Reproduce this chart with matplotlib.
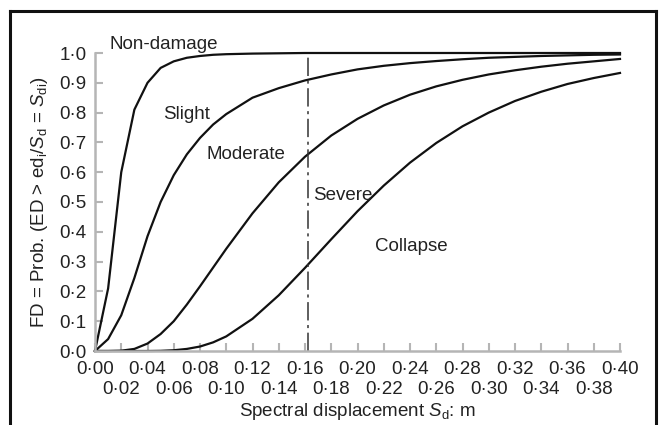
import numpy as np
import matplotlib
matplotlib.use("Agg")
import matplotlib.pyplot as plt
from matplotlib.lines import Line2D

plt.rcParams["font.family"] = "Liberation Sans"
plt.rcParams["mathtext.fontset"] = "custom"
plt.rcParams["mathtext.rm"] = "Liberation Sans"
plt.rcParams["mathtext.it"] = "Liberation Sans:italic"

# spectral displacement grid, m
sd = [0.00, 0.01, 0.02, 0.03, 0.04, 0.05, 0.06, 0.07, 0.08, 0.09, 0.10,
      0.12, 0.14, 0.16, 0.18, 0.20, 0.22, 0.24, 0.26, 0.28, 0.30,
      0.32, 0.34, 0.36, 0.38, 0.40]

# fragility curves (boundaries between damage states)
fd_slight = [0.0, 0.21, 0.60, 0.81, 0.90, 0.95, 0.972, 0.984, 0.990, 0.994, 0.996,
             0.998, 0.999, 1.0, 1.0, 1.0, 1.0, 1.0, 1.0, 1.0, 1.0,
             1.0, 1.0, 1.0, 1.0, 1.0]
fd_moderate = [0.0, 0.04, 0.12, 0.245, 0.385, 0.50, 0.59, 0.66, 0.715, 0.76, 0.795,
               0.85, 0.882, 0.908, 0.928, 0.945, 0.957, 0.966, 0.973, 0.979, 0.984,
               0.987, 0.990, 0.992, 0.994, 0.995]
fd_severe = [0.0, 0.0, 0.001, 0.007, 0.025, 0.057, 0.10, 0.156, 0.217, 0.28, 0.343,
             0.462, 0.566, 0.652, 0.723, 0.779, 0.824, 0.86, 0.888, 0.91, 0.928,
             0.942, 0.954, 0.964, 0.972, 0.98]
fd_collapse = [0.0, 0.0, 0.0, 0.0, 0.0, 0.0006, 0.0025, 0.007, 0.015, 0.029, 0.049,
               0.108, 0.187, 0.279, 0.375, 0.469, 0.555, 0.632, 0.698, 0.754, 0.80,
               0.839, 0.870, 0.896, 0.916, 0.933]

state_names = ["Non-damage", "Slight", "Moderate", "Severe", "Collapse"]
state_pos = [(0.0114, 1.03), (0.0518, 0.795), (0.0853, 0.658), (0.166, 0.523), (0.2133, 0.349)]
sd_design = 0.162

fs = 13.5
fig = plt.figure(figsize=(6.6, 4.25), dpi=100)
ax = fig.add_axes([95 / 660, 74 / 425, 525 / 660, 298 / 425])

for fd in [fd_slight, fd_moderate, fd_severe, fd_collapse]:
    ax.plot(sd, fd, color="#111111", lw=1.6, clip_on=False, solid_joinstyle="round")

ax.plot([sd_design, sd_design], [0, 1.0], color="#333333", lw=1.1,
        dashes=(12, 3, 2, 3), clip_on=False)

for name, (x, y) in zip(state_names, state_pos):
    ax.text(x, y, name, fontsize=fs, ha="left", va="center", color="#222222")

ax.set_xlim(0, 0.40)
ax.set_ylim(0, 1.0)
for s in ["top", "right"]:
    ax.spines[s].set_visible(False)
for s in ["left", "bottom"]:
    ax.spines[s].set_color("#b5b5b5")
    ax.spines[s].set_linewidth(1.8)

major = np.round(np.arange(0, 0.401, 0.04), 2)
minor = np.round(np.arange(0.02, 0.40, 0.04), 2)
ax.set_xticks(major)
ax.set_xticklabels([f"{v:.2f}".replace(".", "\u00b7") for v in major])
ax.set_xticks(minor, minor=True)
ax.set_xticklabels([f"{v:.2f}".replace(".", "\u00b7") for v in minor], minor=True)
yt = np.round(np.arange(0, 1.01, 0.1), 1)
ax.set_yticks(yt)
ax.set_yticklabels([f"{v:.1f}".replace(".", "\u00b7") for v in yt])

ax.tick_params(axis="x", which="major", direction="in", length=6, width=1.5,
               color="#b5b5b5", labelsize=fs, pad=7, labelcolor="#222222")
ax.tick_params(axis="x", which="minor", direction="in", length=6, width=1.5,
               color="#b5b5b5", labelsize=fs, pad=21.5, labelcolor="#222222")
ax.tick_params(axis="y", direction="in", length=6, width=1.5,
               color="#b5b5b5", labelsize=fs, pad=6, labelcolor="#222222")

ax.set_xlabel(r"Spectral displacement $S_\mathregular{d}$: m", fontsize=fs,
              color="#222222", va="center")
ax.xaxis.set_label_coords(0.5, (351 - 411) / 298)
ax.set_ylabel(r"FD = Prob. (ED > ed$_\mathregular{i}$/$S_\mathregular{d}$ = $S_\mathregular{di}$)",
              fontsize=fs, color="#222222")
ax.yaxis.set_label_coords((50 - 95) / 525, 0.5)

# frame round the figure (open at the bottom)
x0, x1, y1 = 10.5 / 660, 656 / 660, 1 - 11 / 425
for xs, ys in [([x0, x0], [-0.05, y1]), ([x0, x1], [y1, y1]), ([x1, x1], [y1, -0.05])]:
    fig.add_artist(Line2D(xs, ys, color="#111111", lw=2.2, transform=fig.transFigure))

fig.savefig("out.png", dpi=100)
